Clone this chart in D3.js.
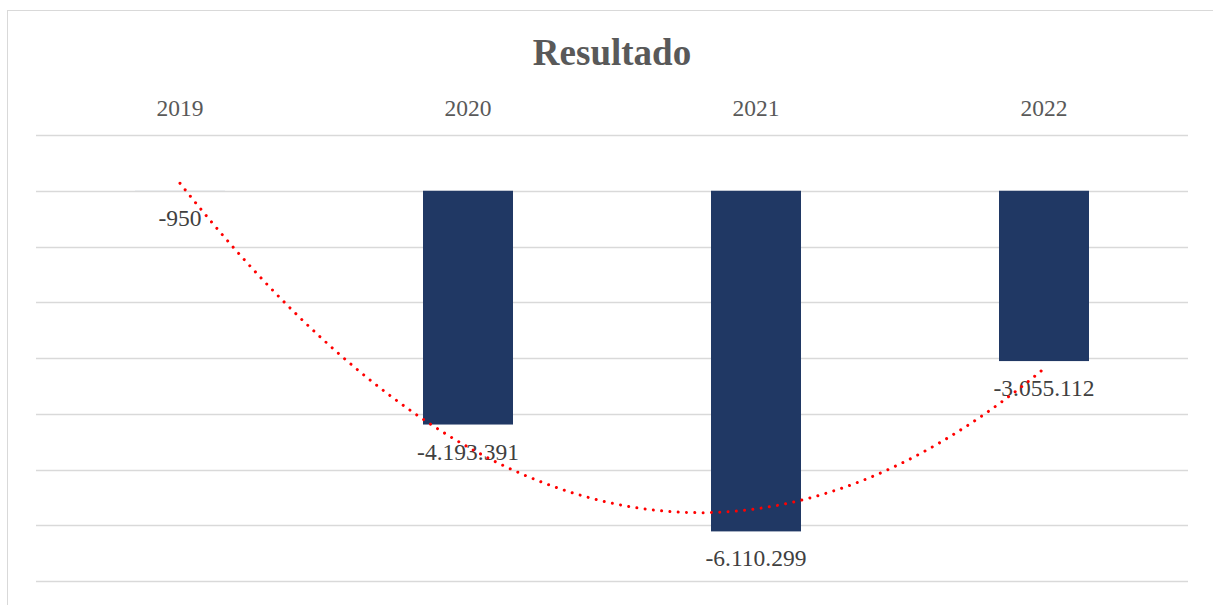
<!DOCTYPE html>
<html><head><meta charset="utf-8">
<script src="https://cdn.jsdelivr.net/npm/d3@7"></script>
<style>html,body{margin:0;padding:0;background:#fff;}svg{display:block;}</style>
</head><body>
<script>
const categories = ["2019","2020","2021","2022"];
const values = [-950, -4193391, -6110299, -3055112];
const labels = ["-950","-4.193.391","-6.110.299","-3.055.112"];
const yTicks = [1e6, 0, -1e6, -2e6, -3e6, -4e6, -5e6, -6e6, -7e6];
const title = "Resultado";

const W = 1213, H = 605;
const svg = d3.select("body").append("svg").attr("width", W).attr("height", H);
svg.append("rect").attr("x",7.5).attr("y",10.5).attr("width",1230).attr("height",640)
  .attr("fill","#fff").attr("stroke","#d9d9d9").attr("stroke-width",1);

const x = d3.scaleBand().domain(categories).range([36, 1188]).paddingInner(0).paddingOuter(0);
const y = d3.scaleLinear().domain([-7e6, 1e6]).range([581, 135]);
const barW = x.bandwidth() * 0.3125;

svg.append("g").selectAll("line").data(yTicks).join("line")
  .attr("x1",36).attr("x2",1188)
  .attr("y1",d=>Math.round(y(d))+0.5).attr("y2",d=>Math.round(y(d))+0.5)
  .attr("stroke","#d9d9d9").attr("stroke-width",1.3);

svg.append("text").attr("x",612).attr("y",65).attr("text-anchor","middle")
  .attr("font-family","'Liberation Serif','Times New Roman',serif").attr("font-weight","bold")
  .attr("font-size",37).attr("fill","#595959").text(title);

const xAxis = d3.axisTop(x).tickSize(0).tickPadding(0);
const gx = svg.append("g").attr("transform","translate(0,116)").call(xAxis);
gx.select(".domain").remove();
gx.selectAll("text").attr("font-family","'Liberation Serif','Times New Roman',serif")
  .attr("font-size",23.5).attr("fill","#595959").attr("dy",0);

svg.append("g").selectAll("rect").data(values).join("rect")
  .attr("x",(d,i)=>x(categories[i]) + x.bandwidth()/2 - barW/2)
  .attr("width",barW)
  .attr("y",d=>y(Math.max(0,d)))
  .attr("height",d=>Math.abs(y(d)-y(0)))
  .attr("fill","#203864");

svg.append("g").selectAll("text").data(values).join("text")
  .attr("x",(d,i)=>x(categories[i]) + x.bandwidth()/2)
  .attr("y",d=>y(d)+35)
  .attr("text-anchor","middle")
  .attr("font-family","'Liberation Serif','Times New Roman',serif")
  .attr("font-size",23.5).attr("fill","#404040")
  .text((d,i)=>labels[i]);

// polynomial (order 2) least-squares trendline, as in the source chart
const n = values.length;
const xs = values.map((d,i)=>i+1);
function solve3(A,b){
  const M = A.map((r,i)=>[...r,b[i]]);
  for(let c=0;c<3;c++){
    let p=c; for(let r=c+1;r<3;r++) if(Math.abs(M[r][c])>Math.abs(M[p][c])) p=r;
    [M[c],M[p]]=[M[p],M[c]];
    for(let r=0;r<3;r++){ if(r===c) continue; const f=M[r][c]/M[c][c]; for(let k=c;k<4;k++) M[r][k]-=f*M[c][k]; }
  }
  return M.map((r,i)=>r[3]/r[i]);
}
const S = k => d3.sum(xs, v=>Math.pow(v,k));
const T = k => d3.sum(xs, (v,i)=>Math.pow(v,k)*values[i]);
const coef = solve3([[S(0),S(1),S(2)],[S(1),S(2),S(3)],[S(2),S(3),S(4)]],[T(0),T(1),T(2)]);
const trend = d3.range(1, n + 0.0001, 0.02).map(t=>[t, coef[0]+coef[1]*t+coef[2]*t*t]);
const xPos = t => x(categories[0]) + x.bandwidth()/2 + (t-1)*x.step();
svg.append("path").datum(trend)
  .attr("d", d3.line().x(d=>xPos(d[0])).y(d=>y(d[1])).curve(d3.curveLinear))
  .attr("fill","none").attr("stroke","#ff0000").attr("stroke-width",3)
  .attr("stroke-linecap","round").attr("stroke-dasharray","0.01 8.3");
</script>
</body></html>
